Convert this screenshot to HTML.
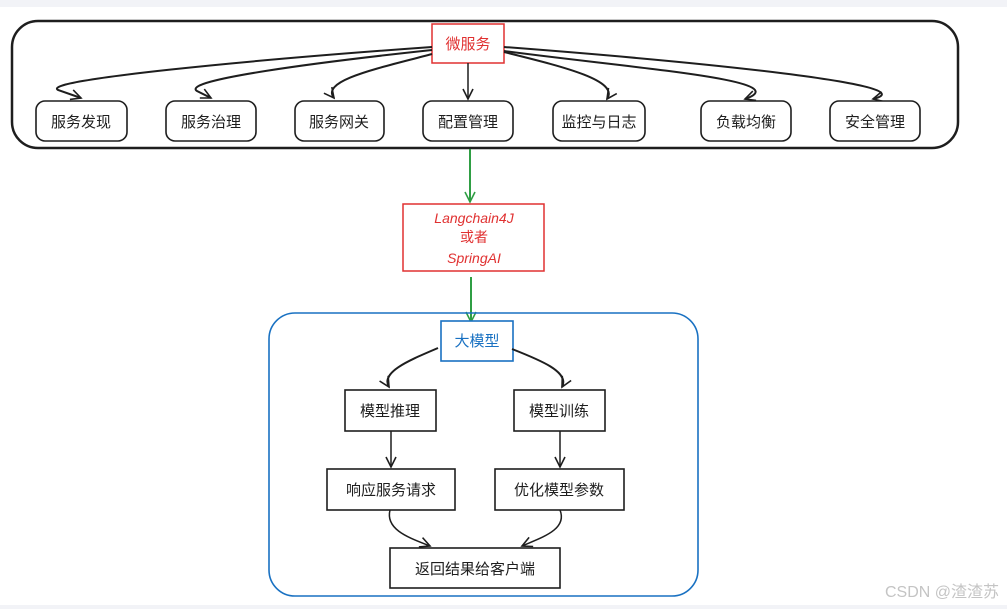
<!DOCTYPE html>
<html><head><meta charset="utf-8"><style>
html,body{margin:0;padding:0;background:#f2f3f7;}
svg{display:block}
text{font-family:"Liberation Sans","Noto Sans CJK SC",sans-serif;}
</style></head><body>
<svg width="1007" height="609" viewBox="0 0 1007 609" xmlns="http://www.w3.org/2000/svg">
<defs>
<marker id="a" markerWidth="14" markerHeight="14" refX="11" refY="6" orient="auto" markerUnits="userSpaceOnUse">
<path d="M1,1 L11,6 L1,11" fill="none" stroke="#1e1e1e" stroke-width="1.6"/></marker>
<marker id="g" markerWidth="14" markerHeight="14" refX="11" refY="6" orient="auto" markerUnits="userSpaceOnUse">
<path d="M1,1 L11,6 L1,11" fill="none" stroke="#2f9e44" stroke-width="1.6"/></marker>
</defs>
<rect x="0" y="7" width="1007" height="598" fill="#fff"/>
<rect x="12" y="21" width="946" height="127" rx="26" fill="none" stroke="#1e1e1e" stroke-width="2.5"/>
<rect x="432" y="24" width="72" height="39" fill="#fff" stroke="#e03131" stroke-width="1.5"/>
<text x="468" y="49" font-size="15" fill="#e03131" text-anchor="middle">微服务</text>
<g fill="none" stroke="#1e1e1e" stroke-width="2">
<path d="M432,47 C250,60 40,80 58,90 L81,98" marker-end="url(#a)"/>
<path d="M432,50 C320,62 180,80 197,91 L211,98" marker-end="url(#a)"/>
<path d="M432,54 C380,68 320,80 334,98" marker-end="url(#a)"/>
<path d="M468,63 L468,99" stroke-width="1.5" marker-end="url(#a)"/>
<path d="M504,52 C560,66 620,80 607,99" marker-end="url(#a)"/>
<path d="M504,51 C630,68 800,80 745,99" marker-end="url(#a)"/>
<path d="M504,47 C700,62 930,85 873,99" marker-end="url(#a)"/>
</g>
<g fill="#fff" stroke="#1e1e1e" stroke-width="1.6">
<rect x="36" y="101" width="91" height="40" rx="9"/>
<rect x="166" y="101" width="90" height="40" rx="9"/>
<rect x="295" y="101" width="89" height="40" rx="9"/>
<rect x="423" y="101" width="90" height="40" rx="9"/>
<rect x="553" y="101" width="92" height="40" rx="9"/>
<rect x="701" y="101" width="90" height="40" rx="9"/>
<rect x="830" y="101" width="90" height="40" rx="9"/>
</g>
<g font-size="15" fill="#1e1e1e" text-anchor="middle">
<text x="81" y="127">服务发现</text>
<text x="211" y="127">服务治理</text>
<text x="339" y="127">服务网关</text>
<text x="468" y="127">配置管理</text>
<text x="599" y="127">监控与日志</text>
<text x="746" y="127">负载均衡</text>
<text x="875" y="127">安全管理</text>
</g>
<path d="M470,149 L470,202" stroke="#2f9e44" stroke-width="2" fill="none" marker-end="url(#g)"/>
<path d="M471,277 L471,322" stroke="#2f9e44" stroke-width="2" fill="none" marker-end="url(#g)"/>
<rect x="403" y="204" width="141" height="67" fill="#fff" stroke="#e03131" stroke-width="1.5"/>
<g font-size="14" fill="#e03131" text-anchor="middle" font-style="italic">
<text x="474" y="223">Langchain4J</text>
<text x="474" y="242" font-style="normal">或者</text>
<text x="474" y="263">SpringAI</text>
</g>
<rect x="269" y="313" width="429" height="283" rx="26" fill="none" stroke="#1971c2" stroke-width="1.6"/>
<rect x="441" y="321" width="72" height="40" fill="#fff" stroke="#1971c2" stroke-width="1.6"/>
<text x="477" y="346" font-size="15" fill="#1971c2" text-anchor="middle">大模型</text>
<g fill="none" stroke="#1e1e1e" stroke-width="2">
<path d="M438,348 C410,360 380,372 389,387" marker-end="url(#a)"/>
<path d="M512,349 C540,360 570,372 562,387" marker-end="url(#a)"/>
<path d="M391,431 L391,467" stroke-width="1.5" marker-end="url(#a)"/>
<path d="M560,431 L560,467" stroke-width="1.5" marker-end="url(#a)"/>
<path d="M390,510 C385,530 410,538 430,546" stroke-width="1.5" marker-end="url(#a)"/>
<path d="M560,510 C568,530 540,538 522,546" stroke-width="1.5" marker-end="url(#a)"/>
</g>
<g fill="#fff" stroke="#1e1e1e" stroke-width="1.6">
<rect x="345" y="390" width="91" height="41"/>
<rect x="514" y="390" width="91" height="41"/>
<rect x="327" y="469" width="128" height="41"/>
<rect x="495" y="469" width="129" height="41"/>
<rect x="390" y="548" width="170" height="40"/>
</g>
<g font-size="15" fill="#1e1e1e" text-anchor="middle">
<text x="390" y="416">模型推理</text>
<text x="559" y="416">模型训练</text>
<text x="391" y="495">响应服务请求</text>
<text x="559" y="495">优化模型参数</text>
<text x="475" y="574">返回结果给客户端</text>
</g>
<text x="999" y="597" font-size="16" fill="#c4c4c4" text-anchor="end">CSDN @渣渣苏</text>
</svg>
</body></html>
